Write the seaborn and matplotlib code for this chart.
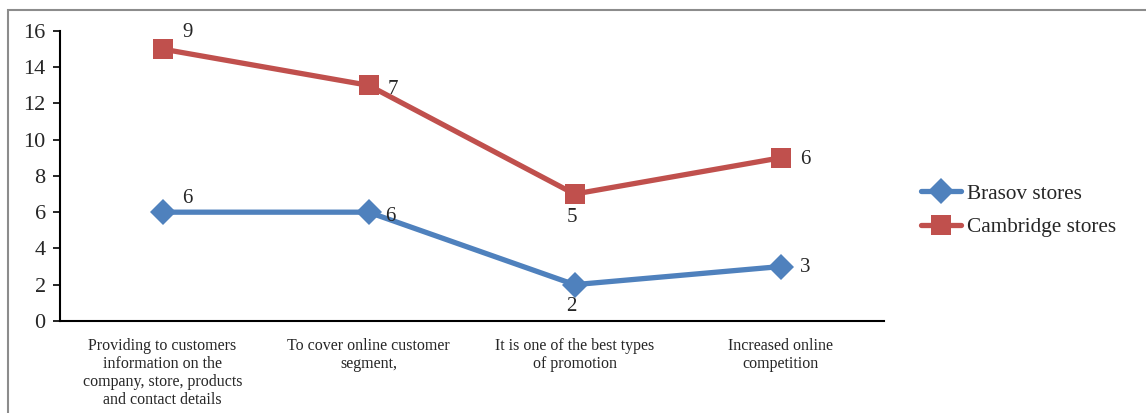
import pandas as pd
import matplotlib.pyplot as plt
import seaborn as sns
from matplotlib.patches import Rectangle
from matplotlib.lines import Line2D

# chart data
categories = [
    "Providing to customers\ninformation on the\ncompany, store, products\nand contact details",
    "To cover online customer\nsegment,",
    "It is one of the best types\nof promotion",
    "Increased online\ncompetition",
]
brasov = [6, 6, 2, 3]
cambridge = [9, 7, 5, 6]
# cambridge line is stacked on top of brasov
cambridge_stacked = [b + c for b, c in zip(brasov, cambridge)]

sns.set_style("white")
plt.rcParams["font.family"] = ["Liberation Serif", "DejaVu Serif"]

df = pd.DataFrame({
    "x": list(range(len(categories))) * 2,
    "value": brasov + cambridge_stacked,
    "series": ["Brasov stores"] * 4 + ["Cambridge stores"] * 4,
})

fig = plt.figure(figsize=(11.46, 4.13), dpi=100)
ax = fig.add_axes([0.052, 0.223, 0.719, 0.702])

palette = {"Brasov stores": "#4F81BD", "Cambridge stores": "#C0504D"}
markers = {"Brasov stores": "D", "Cambridge stores": "s"}
msize = {"Brasov stores": 13, "Cambridge stores": 14}
for name in ["Brasov stores", "Cambridge stores"]:
    sub = df[df["series"] == name]
    sns.lineplot(data=sub, x="x", y="value", color=palette[name], marker=markers[name],
                 linewidth=3.8, markersize=msize[name], markeredgewidth=0, ax=ax)

# data labels (show the raw values)
brasov_off = [(14, 10), (12, -3), (-6, -16), (14, -1)]
cam_off = [(14, 12), (14, -3), (-6, -17), (14, -1)]
for i in range(len(categories)):
    ax.annotate(str(brasov[i]), (i, brasov[i]), xytext=brasov_off[i],
                textcoords="offset points", fontsize=15, va="center")
    ax.annotate(str(cambridge[i]), (i, cambridge_stacked[i]), xytext=cam_off[i],
                textcoords="offset points", fontsize=15, va="center")

ax.set_xlim(-0.5, len(categories) - 0.5)
ax.set_ylim(0, 16)
ax.set_yticks(range(0, 17, 2))
ax.set_xticks(range(len(categories)))
ax.set_xticklabels(categories, fontsize=11.5, linespacing=1.17)
ax.set_xticks([i - 0.5 for i in range(len(categories) + 1)], minor=True)
ax.tick_params(axis="x", which="major", length=0, pad=12)
ax.tick_params(axis="x", which="minor", length=5, width=1.2, direction="out", color="black")
ax.tick_params(axis="y", labelsize=16, length=5, width=1.2, direction="out", color="black", left=True, pad=5)
ax.set_xlabel("")
ax.set_ylabel("")
for s in ["top", "right"]:
    ax.spines[s].set_visible(False)
for s in ["left", "bottom"]:
    ax.spines[s].set_color("black")
    ax.spines[s].set_linewidth(1.5)

# legend
handles = [Line2D([], [], color=palette[k], marker=markers[k], markersize=msize[k],
                  markeredgewidth=0, linewidth=3.8) for k in ["Brasov stores", "Cambridge stores"]]
fig.legend(handles, ["Brasov stores", "Cambridge stores"], loc="center left",
           bbox_to_anchor=(0.787, 0.49), frameon=False, fontsize=15.3,
           handlelength=1.9, handletextpad=0.25, labelspacing=0.65)

# outer frame of the chart area
fig.patches.append(Rectangle((0.007, -0.1), 1.1, 1.076, transform=fig.transFigure,
                             fill=False, edgecolor="#8c8c8c", linewidth=1.5))

fig.savefig("out.png", dpi=100)
